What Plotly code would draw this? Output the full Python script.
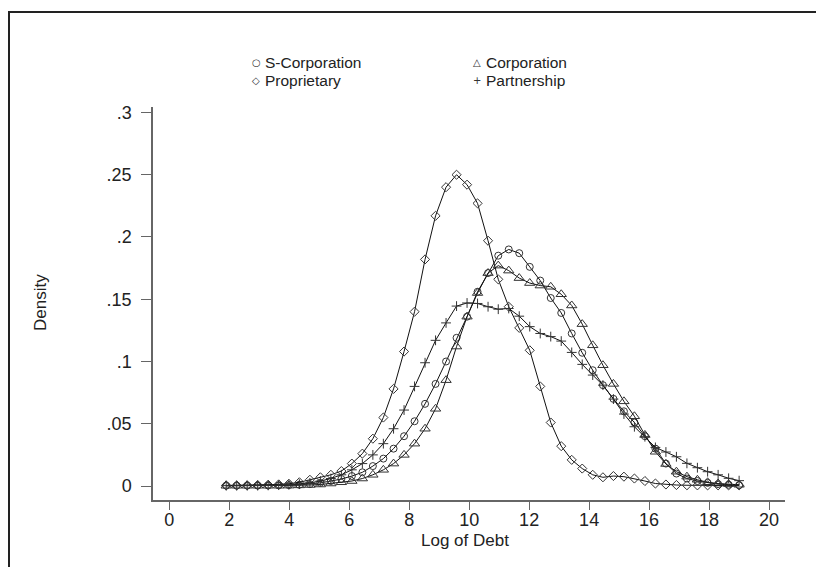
import plotly.graph_objects as go

log_debt = [1.90, 2.25, 2.60, 2.95, 3.30, 3.65, 3.99, 4.34, 4.69, 5.04,
            5.39, 5.74, 6.09, 6.44, 6.79, 7.14, 7.48, 7.83, 8.18, 8.53,
            8.88, 9.23, 9.58, 9.93, 10.28, 10.63, 10.97, 11.32, 11.67, 12.02,
            12.37, 12.72, 13.07, 13.42, 13.77, 14.12, 14.46, 14.81, 15.16, 15.51,
            15.86, 16.21, 16.56, 16.91, 17.26, 17.61, 17.95, 18.30, 18.65, 19.00]

s_corporation = [0.0003, 0.0003, 0.0003, 0.0003, 0.0004, 0.0005, 0.0007, 0.001, 0.0015, 0.0025,
                 0.004, 0.0056, 0.008, 0.011, 0.016, 0.022, 0.030, 0.040, 0.052, 0.066,
                 0.082, 0.100, 0.119, 0.136, 0.156, 0.171, 0.185, 0.190, 0.187, 0.176,
                 0.165, 0.151, 0.139, 0.1225, 0.107, 0.093, 0.081, 0.070, 0.060, 0.051,
                 0.040, 0.030, 0.018, 0.010, 0.006, 0.004, 0.0025, 0.0015, 0.001, 0.0007]

corporation = [0.0002, 0.0002, 0.0002, 0.0002, 0.0002, 0.0002, 0.0003, 0.0005, 0.0008, 0.0012,
               0.002, 0.003, 0.004, 0.006, 0.009, 0.013, 0.018, 0.025, 0.034, 0.046,
               0.062, 0.085, 0.112, 0.136, 0.155, 0.171, 0.177, 0.173, 0.167, 0.163,
               0.161, 0.160, 0.154, 0.145, 0.130, 0.113, 0.097, 0.082, 0.068, 0.056,
               0.041, 0.0275, 0.0177, 0.0115, 0.0075, 0.005, 0.003, 0.002, 0.0015, 0.001]

proprietary = [0.0005, 0.0005, 0.0006, 0.0008, 0.001, 0.0013, 0.0018, 0.003, 0.005, 0.007,
               0.009, 0.012, 0.018, 0.026, 0.038, 0.055, 0.078, 0.108, 0.140, 0.182,
               0.217, 0.240, 0.250, 0.242, 0.227, 0.197, 0.166, 0.144, 0.127, 0.109,
               0.080, 0.051, 0.032, 0.021, 0.014, 0.009, 0.007, 0.008, 0.0075, 0.006,
               0.004, 0.002, 0.0012, 0.0008, 0.0006, 0.0005, 0.0005, 0.0005, 0.0005, 0.0005]

partnership = [0.0003, 0.0003, 0.0003, 0.0003, 0.0005, 0.0007, 0.001, 0.0015, 0.0025, 0.004,
               0.006, 0.009, 0.013, 0.018, 0.025, 0.034, 0.046, 0.061, 0.080, 0.099,
               0.117, 0.131, 0.1445, 0.147, 0.1466, 0.144, 0.142, 0.1426, 0.1364, 0.128,
               0.1225, 0.120, 0.1164, 0.1073, 0.0977, 0.0891, 0.081, 0.0698, 0.0578, 0.0476,
               0.0396, 0.031, 0.0273, 0.0235, 0.0182, 0.0147, 0.0115, 0.009, 0.0062, 0.0043]

x_ticks = [0, 2, 4, 6, 8, 10, 12, 14, 16, 18, 20]
y_ticks = [0, 0.05, 0.1, 0.15, 0.2, 0.25, 0.3]
y_tick_text = ["0", ".05", ".1", ".15", ".2", ".25", ".3"]

# page body has an 8px margin: figure coordinates = screen coordinates - 8
OFF = 8
W, H = 824 - OFF, 567 - OFF
L, T = 153 - OFF, 107 - OFF
PW, PH = 632, 393
R, B = W - L - PW, H - T - PH

def px(sx):
    return (sx - OFF - L) / PW

def py(sy):
    return (T + PH - (sy - OFF)) / PH

MC = "#333333"
FONT = "Liberation Sans, Arial, Helvetica, sans-serif"

series = [
    ("S-Corporation", s_corporation, "circle-open", 7, "○"),
    ("Corporation", corporation, "triangle-up-open", 9, "△"),
    ("Proprietary", proprietary, "diamond-open", 7, "◇"),
    ("Partnership", partnership, "cross-thin-open", 7, "+"),
]

fig = go.Figure()
for name, vals, sym, size, _ in series:
    fig.add_trace(go.Scatter(
        x=log_debt, y=vals, name=name, mode="lines+markers",
        line=dict(color="#111111", width=1),
        marker=dict(symbol=sym, size=size, color=MC, line=dict(color=MC, width=1)),
        showlegend=False,
    ))

# legend (2 columns), screen positions of the key glyphs
legend_pos = {
    "S-Corporation": (256, 62.5),
    "Proprietary": (256, 80.5),
    "Corporation": (477, 62.5),
    "Partnership": (477, 80.5),
}
annotations = []
for name, _, _, _, glyph in series:
    gx, gy = legend_pos[name]
    annotations.append(dict(x=px(gx), y=py(gy), xref="paper", yref="paper",
                            text=glyph, showarrow=False, xanchor="center", yanchor="middle",
                            borderpad=0,
                            font=dict(family="DejaVu Sans", size=10, color=MC)))
    annotations.append(dict(x=px(gx + 8), y=py(gy), xref="paper", yref="paper",
                            text=name, showarrow=False, xanchor="left", yanchor="middle",
                            borderpad=0,
                            font=dict(family=FONT, size=15.5, color="#222222")))

annotations.append(dict(x=px(40), y=py(303), xref="paper", yref="paper", text="Density",
                        showarrow=False, textangle=-90, xanchor="center", yanchor="middle",
                        font=dict(family=FONT, size=17, color="#222222")))
annotations.append(dict(x=px(465), y=py(540), xref="paper", yref="paper", text="Log of Debt",
                        showarrow=False, xanchor="center", yanchor="middle", borderpad=0,
                        font=dict(family=FONT, size=17, color="#222222")))

fig.update_layout(
    width=W, height=H,
    margin=dict(l=L, r=R, t=T, b=B, autoexpand=False),
    paper_bgcolor="white", plot_bgcolor="white",
    font=dict(family=FONT, size=18, color="#222222"),
    annotations=annotations,
    shapes=[dict(type="rect", xref="paper", yref="paper",
                 x0=px(9), x1=px(860), y0=py(600), y1=py(12),
                 line=dict(color="#222222", width=2), fillcolor="rgba(0,0,0,0)")],
)
fig.update_xaxes(range=[-0.54, 20.53], tickvals=x_ticks, ticks="outside", ticklen=8,
                 tickcolor="#666666", showline=True, linecolor="#666666", linewidth=1.5,
                 showgrid=False, zeroline=False, ticklabelstandoff=-5,
                 tickfont=dict(size=18, family=FONT, color="#222222"))
fig.update_yaxes(range=[-0.01124, 0.3044], tickvals=y_ticks, ticktext=y_tick_text,
                 ticks="outside", ticklen=10, tickcolor="#666666", showline=True,
                 linecolor="#666666", linewidth=1.5, showgrid=False, zeroline=False,
                 ticklabelstandoff=6, tickfont=dict(size=18, family=FONT, color="#222222"))

fig.write_html("out.html")
